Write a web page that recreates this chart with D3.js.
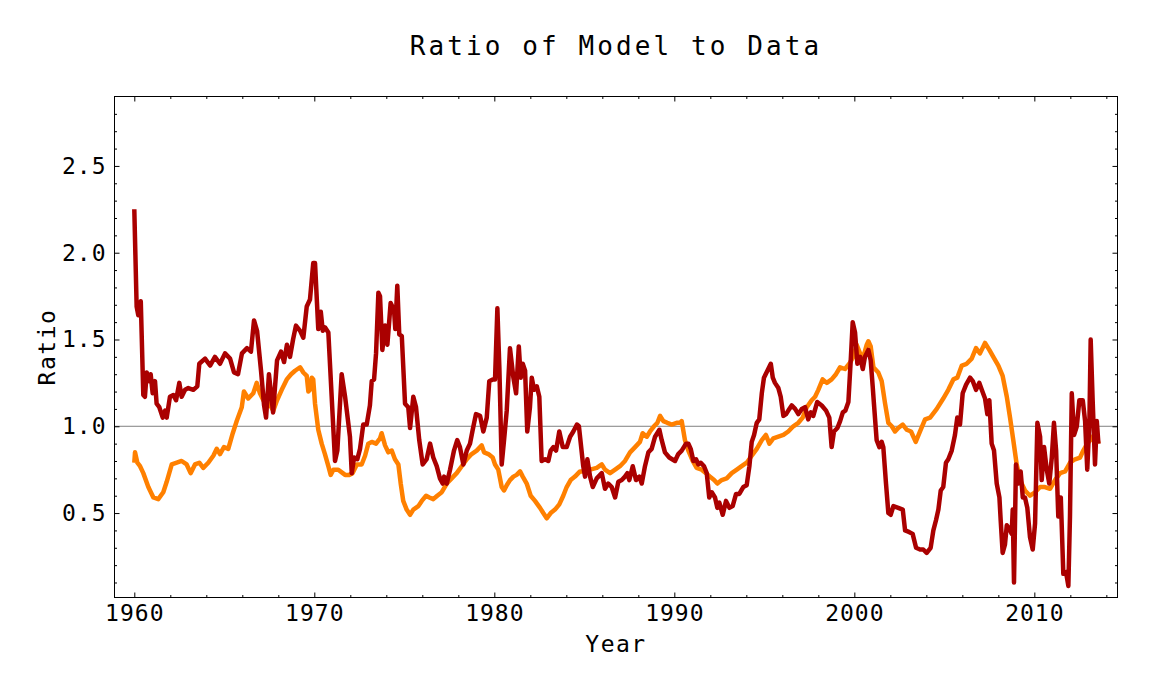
<!DOCTYPE html>
<html>
<head>
<meta charset="utf-8">
<script src="https://cdn.jsdelivr.net/npm/d3@7"></script>
<style>
  body { margin: 0; background: #fff; }
  svg { display: block; }
  .tick-label { font-family: "DejaVu Sans Mono", monospace; font-size: 23px; letter-spacing: 1px; fill: #000; }
</style>
</head>
<body>
<div id="chart"></div>
<script>
// dark red series (year, ratio)
const redYears = [1960.00, 1960.13, 1960.22, 1960.36, 1960.50, 1960.59, 1960.69, 1960.83, 1960.91, 1961.02,
  1961.15, 1961.24, 1961.39, 1961.58, 1961.71, 1961.80, 1961.98, 1962.17, 1962.32, 1962.50,
  1962.63, 1962.82, 1963.00, 1963.28, 1963.50, 1963.61, 1963.93, 1964.21, 1964.48, 1964.76,
  1965.04, 1965.32, 1965.54, 1965.76, 1965.98, 1966.26, 1966.48, 1966.65, 1966.82, 1967.04,
  1967.21, 1967.32, 1967.48, 1967.71, 1967.93, 1968.15, 1968.32, 1968.48, 1968.65, 1968.82,
  1968.98, 1969.21, 1969.39, 1969.58, 1969.76, 1969.94, 1970.04, 1970.22, 1970.36, 1970.47,
  1970.59, 1970.78, 1971.15, 1971.28, 1971.52, 1971.71, 1971.98, 1972.08, 1972.21, 1972.39,
  1972.54, 1972.72, 1972.91, 1973.09, 1973.19, 1973.32, 1973.43, 1973.56, 1973.65, 1973.78,
  1973.93, 1974.06, 1974.24, 1974.43, 1974.50, 1974.61, 1974.72, 1974.86, 1975.04, 1975.22,
  1975.32, 1975.50, 1975.65, 1975.83, 1976.02, 1976.24, 1976.43, 1976.61, 1976.80, 1976.98,
  1977.13, 1977.21, 1977.36, 1977.54, 1977.76, 1977.94, 1978.09, 1978.28, 1978.47, 1978.65,
  1978.80, 1978.98, 1979.21, 1979.39, 1979.58, 1979.72, 1979.91, 1980.04, 1980.17, 1980.28,
  1980.41, 1980.54, 1980.69, 1980.87, 1981.06, 1981.21, 1981.36, 1981.47, 1981.58, 1981.71,
  1981.83, 1981.98, 1982.08, 1982.21, 1982.36, 1982.50, 1982.63, 1982.82, 1983.00, 1983.13,
  1983.28, 1983.43, 1983.61, 1983.80, 1984.02, 1984.21, 1984.39, 1984.59, 1984.70, 1984.94,
  1985.04, 1985.17, 1985.32, 1985.47, 1985.69, 1985.97, 1986.15, 1986.33, 1986.52, 1986.71,
  1986.89, 1987.08, 1987.26, 1987.39, 1987.50, 1987.69, 1987.87, 1988.06, 1988.19, 1988.37,
  1988.56, 1988.74, 1988.93, 1989.17, 1989.30, 1989.48, 1989.72, 1990.04, 1990.22, 1990.41,
  1990.65, 1990.78, 1990.91, 1991.06, 1991.21, 1991.33, 1991.47, 1991.65, 1991.80, 1991.94,
  1992.08, 1992.26, 1992.39, 1992.50, 1992.69, 1992.87, 1993.06, 1993.24, 1993.43, 1993.61,
  1993.83, 1994.02, 1994.17, 1994.30, 1994.43, 1994.58, 1994.72, 1994.86, 1994.98, 1995.17,
  1995.36, 1995.47, 1995.59, 1995.78, 1995.91, 1996.06, 1996.21, 1996.39, 1996.52, 1996.71,
  1996.89, 1997.08, 1997.26, 1997.44, 1997.58, 1997.72, 1997.94, 1998.19, 1998.43, 1998.61,
  1998.74, 1998.87, 1999.06, 1999.21, 1999.36, 1999.50, 1999.67, 1999.80, 1999.91, 2000.04,
  2000.17, 2000.32, 2000.47, 2000.59, 2000.78, 2000.91, 2001.02, 2001.09, 2001.24, 2001.39,
  2001.52, 2001.61, 2001.76, 2001.89, 2002.02, 2002.17, 2002.44, 2002.69, 2002.82, 2003.06,
  2003.24, 2003.43, 2003.65, 2003.83, 2004.02, 2004.24, 2004.39, 2004.54, 2004.67, 2004.80,
  2004.94, 2005.09, 2005.22, 2005.41, 2005.59, 2005.72, 2005.87, 2006.02, 2006.21, 2006.43,
  2006.58, 2006.76, 2006.94, 2007.08, 2007.26, 2007.39, 2007.50, 2007.63, 2007.76, 2007.91,
  2008.06, 2008.13, 2008.24, 2008.37, 2008.47, 2008.61, 2008.74, 2008.80, 2008.87, 2008.98,
  2009.11, 2009.24, 2009.36, 2009.48, 2009.61, 2009.76, 2009.91, 2010.04, 2010.17, 2010.32,
  2010.41, 2010.54, 2010.69, 2010.83, 2010.97, 2011.09, 2011.21, 2011.33, 2011.47, 2011.61,
  2011.76, 2011.89, 2011.98, 2012.08, 2012.21, 2012.36, 2012.50, 2012.69, 2012.82, 2012.94,
  2013.06, 2013.13, 2013.24, 2013.37, 2013.47, 2013.56];
const redValues = [2.25, 1.69, 1.64, 1.72, 1.18, 1.17, 1.31, 1.26, 1.30, 1.19,
  1.26, 1.13, 1.11, 1.05, 1.09, 1.05, 1.17, 1.18, 1.15, 1.25,
  1.17, 1.21, 1.22, 1.21, 1.23, 1.36, 1.39, 1.35, 1.40, 1.36,
  1.42, 1.39, 1.31, 1.30, 1.42, 1.45, 1.43, 1.61, 1.55, 1.32,
  1.12, 1.05, 1.30, 1.08, 1.38, 1.43, 1.37, 1.47, 1.40, 1.50,
  1.58, 1.55, 1.51, 1.69, 1.73, 1.94, 1.94, 1.56, 1.66, 1.55,
  1.57, 1.54, 0.80, 0.86, 1.30, 1.17, 0.94, 0.73, 0.82, 0.81,
  0.87, 1.01, 1.01, 1.12, 1.26, 1.27, 1.42, 1.77, 1.75, 1.44,
  1.58, 1.47, 1.71, 1.67, 1.56, 1.81, 1.53, 1.52, 1.13, 1.11,
  0.99, 1.17, 1.11, 0.92, 0.78, 0.81, 0.90, 0.82, 0.77, 0.70,
  0.67, 0.71, 0.67, 0.75, 0.86, 0.92, 0.88, 0.78, 0.86, 0.90,
  0.98, 1.07, 1.06, 0.97, 1.05, 1.26, 1.27, 1.27, 1.68, 1.34,
  0.78, 0.92, 1.09, 1.45, 1.28, 1.19, 1.46, 1.28, 1.36, 1.32,
  0.97, 1.11, 1.28, 1.21, 1.23, 1.17, 0.80, 0.81, 0.80, 0.86,
  0.88, 0.86, 0.97, 0.88, 0.88, 0.94, 0.97, 1.01, 1.00, 0.77,
  0.71, 0.81, 0.71, 0.65, 0.70, 0.73, 0.64, 0.67, 0.65, 0.59,
  0.68, 0.69, 0.71, 0.73, 0.69, 0.77, 0.69, 0.71, 0.67, 0.77,
  0.85, 0.87, 0.94, 0.98, 0.92, 0.85, 0.82, 0.80, 0.84, 0.86,
  0.90, 0.90, 0.87, 0.80, 0.81, 0.78, 0.79, 0.77, 0.73, 0.59,
  0.62, 0.59, 0.53, 0.56, 0.49, 0.57, 0.53, 0.54, 0.61, 0.61,
  0.65, 0.66, 0.77, 0.91, 0.95, 1.02, 1.04, 1.19, 1.28, 1.32,
  1.36, 1.28, 1.25, 1.22, 1.17, 1.06, 1.07, 1.10, 1.12, 1.10,
  1.07, 1.10, 1.11, 1.04, 1.08, 1.06, 1.14, 1.12, 1.09, 1.05,
  0.88, 0.97, 0.99, 1.03, 1.08, 1.09, 1.14, 1.38, 1.60, 1.54,
  1.36, 1.40, 1.33, 1.40, 1.44, 1.38, 1.23, 1.13, 0.92, 0.88,
  0.91, 0.88, 0.67, 0.50, 0.49, 0.54, 0.53, 0.52, 0.40, 0.39,
  0.38, 0.30, 0.29, 0.29, 0.27, 0.30, 0.40, 0.46, 0.52, 0.63,
  0.65, 0.79, 0.81, 0.86, 0.95, 1.05, 1.01, 1.19, 1.24, 1.28,
  1.26, 1.21, 1.25, 1.21, 1.16, 1.07, 1.15, 0.90, 0.86, 0.67,
  0.59, 0.46, 0.27, 0.32, 0.43, 0.41, 0.38, 0.52, 0.10, 0.78,
  0.67, 0.74, 0.59, 0.59, 0.53, 0.36, 0.29, 0.44, 1.02, 0.94,
  0.69, 0.88, 0.75, 0.67, 0.82, 1.02, 0.86, 0.48, 0.59, 0.15,
  0.16, 0.08, 0.48, 1.19, 0.95, 1.00, 1.15, 1.15, 1.03, 0.75,
  1.03, 1.50, 1.15, 0.78, 1.03, 0.90];

// orange series (year, ratio)
const orangeYears = [1960.00, 1960.04, 1960.17, 1960.32, 1960.50, 1960.78, 1961.06, 1961.33, 1961.61, 1961.80,
  1962.08, 1962.36, 1962.63, 1962.91, 1963.13, 1963.37, 1963.61, 1963.83, 1964.11, 1964.39,
  1964.58, 1964.76, 1964.98, 1965.22, 1965.47, 1965.69, 1965.97, 1966.09, 1966.33, 1966.61,
  1966.80, 1966.98, 1967.17, 1967.44, 1967.72, 1967.93, 1968.19, 1968.47, 1968.71, 1968.93,
  1969.21, 1969.39, 1969.58, 1969.67, 1969.76, 1969.86, 1969.94, 1970.04, 1970.22, 1970.41,
  1970.59, 1970.78, 1970.91, 1971.06, 1971.33, 1971.58, 1971.71, 1971.94, 1972.13, 1972.36,
  1972.63, 1972.82, 1973.00, 1973.19, 1973.43, 1973.65, 1973.74, 1973.93, 1974.11, 1974.30,
  1974.48, 1974.67, 1974.80, 1974.94, 1975.13, 1975.32, 1975.50, 1975.78, 1975.97, 1976.21,
  1976.39, 1976.61, 1976.83, 1977.08, 1977.36, 1977.63, 1977.91, 1978.19, 1978.47, 1978.74,
  1979.02, 1979.30, 1979.43, 1979.67, 1979.91, 1980.04, 1980.22, 1980.41, 1980.54, 1980.69,
  1980.87, 1981.06, 1981.24, 1981.43, 1981.58, 1981.80, 1982.02, 1982.26, 1982.54, 1982.72,
  1982.91, 1983.13, 1983.37, 1983.61, 1983.83, 1984.02, 1984.24, 1984.48, 1984.76, 1985.04,
  1985.32, 1985.69, 1985.97, 1986.15, 1986.43, 1986.71, 1986.98, 1987.26, 1987.54, 1987.82,
  1988.09, 1988.24, 1988.47, 1988.65, 1988.87, 1989.06, 1989.21, 1989.39, 1989.61, 1989.86,
  1990.13, 1990.32, 1990.41, 1990.59, 1990.78, 1991.02, 1991.24, 1991.52, 1991.76, 1991.98,
  1992.21, 1992.39, 1992.63, 1992.91, 1993.19, 1993.47, 1993.74, 1994.02, 1994.30, 1994.58,
  1994.86, 1995.09, 1995.28, 1995.50, 1995.78, 1996.06, 1996.33, 1996.61, 1996.89, 1997.13,
  1997.36, 1997.63, 1997.82, 1998.00, 1998.24, 1998.47, 1998.74, 1998.98, 1999.21, 1999.48,
  1999.72, 1999.94, 2000.13, 2000.32, 2000.50, 2000.69, 2000.78, 2000.91, 2001.06, 2001.33,
  2001.52, 2001.71, 2001.89, 2002.08, 2002.26, 2002.44, 2002.69, 2002.91, 2003.15, 2003.41,
  2003.65, 2003.93, 2004.21, 2004.58, 2004.94, 2005.22, 2005.50, 2005.72, 2005.97, 2006.24,
  2006.52, 2006.76, 2006.98, 2007.26, 2007.50, 2007.72, 2008.00, 2008.24, 2008.47, 2008.65,
  2008.83, 2009.02, 2009.21, 2009.48, 2009.76, 2010.04, 2010.32, 2010.59, 2010.87, 2011.15,
  2011.43, 2011.71, 2011.98, 2012.26, 2012.54, 2012.72, 2012.94, 2013.19, 2013.43, 2013.56];
const orangeValues = [0.79, 0.85, 0.79, 0.77, 0.73, 0.65, 0.59, 0.58, 0.62, 0.68,
  0.78, 0.79, 0.80, 0.78, 0.73, 0.78, 0.79, 0.76, 0.79, 0.83,
  0.87, 0.84, 0.88, 0.87, 0.96, 1.03, 1.11, 1.20, 1.16, 1.19,
  1.25, 1.19, 1.15, 1.14, 1.09, 1.15, 1.21, 1.27, 1.30, 1.32,
  1.34, 1.31, 1.29, 1.20, 1.21, 1.28, 1.27, 1.13, 0.98, 0.90,
  0.84, 0.77, 0.72, 0.75, 0.75, 0.73, 0.72, 0.72, 0.73, 0.78,
  0.78, 0.83, 0.90, 0.91, 0.90, 0.93, 0.96, 0.89, 0.85, 0.86,
  0.81, 0.78, 0.67, 0.57, 0.52, 0.49, 0.52, 0.54, 0.57, 0.60,
  0.59, 0.58, 0.60, 0.62, 0.67, 0.70, 0.73, 0.77, 0.81, 0.84,
  0.86, 0.89, 0.85, 0.84, 0.82, 0.78, 0.75, 0.65, 0.63, 0.66,
  0.69, 0.71, 0.72, 0.74, 0.71, 0.67, 0.60, 0.57, 0.53, 0.50,
  0.47, 0.50, 0.52, 0.55, 0.60, 0.65, 0.69, 0.71, 0.74, 0.74,
  0.75, 0.76, 0.78, 0.75, 0.73, 0.75, 0.77, 0.80, 0.85, 0.88,
  0.91, 0.96, 0.94, 0.97, 1.00, 1.02, 1.06, 1.03, 1.02, 1.01,
  1.02, 1.02, 1.03, 0.92, 0.86, 0.80, 0.76, 0.75, 0.73, 0.71,
  0.69, 0.67, 0.69, 0.70, 0.73, 0.75, 0.77, 0.79, 0.83, 0.87,
  0.92, 0.95, 0.90, 0.93, 0.94, 0.95, 0.97, 1.00, 1.02, 1.05,
  1.11, 1.15, 1.17, 1.21, 1.27, 1.25, 1.27, 1.30, 1.34, 1.33,
  1.36, 1.40, 1.47, 1.42, 1.40, 1.47, 1.49, 1.46, 1.34, 1.31,
  1.26, 1.13, 1.02, 1.00, 0.97, 0.99, 1.01, 0.98, 0.97, 0.91,
  0.97, 1.04, 1.05, 1.10, 1.16, 1.21, 1.27, 1.28, 1.35, 1.36,
  1.39, 1.45, 1.42, 1.48, 1.44, 1.40, 1.35, 1.29, 1.17, 1.05,
  0.92, 0.78, 0.69, 0.63, 0.60, 0.62, 0.65, 0.65, 0.64, 0.69,
  0.73, 0.74, 0.79, 0.81, 0.82, 0.86, 0.90, 0.93, 0.97, 0.90];

const xMajorTicks = [1960, 1970, 1980, 1990, 2000, 2010];
const yMajorTicks = [0.5, 1.0, 1.5, 2.0, 2.5];

const width = 1152, height = 687;
const margin = {top: 96.5, right: 34.5, bottom: 89.5, left: 114.5};
const plotW = width - margin.left - margin.right;
const plotH = height - margin.top - margin.bottom;

const svg = d3.select("#chart").append("svg")
  .attr("width", width).attr("height", height);

const x = d3.scaleLinear().domain([1958.9, 2014.62]).range([0, plotW]);
const y = d3.scaleLinear().domain([0.0135, 2.9]).range([plotH, 0]);

const xMinor = d3.range(1960, 2015, 2).filter(v => v % 10 !== 0);
const yMinor = d3.range(1, 29).map(v => v / 10).filter(v => Math.round(v * 10) % 5 !== 0);

const g = svg.append("g").attr("transform", `translate(${margin.left},${margin.top})`);

svg.append("defs").append("clipPath").attr("id", "plot-clip")
  .append("rect").attr("width", plotW).attr("height", plotH);

// reference line at 1.0
g.append("line")
  .attr("x1", 0).attr("x2", plotW)
  .attr("y1", y(1)).attr("y2", y(1))
  .attr("stroke", "#808080").attr("stroke-width", 1);

const line = d3.line().x(d => x(d[0])).y(d => y(d[1]));

const series = [
  {color: "#ff8000", pts: d3.zip(orangeYears, orangeValues)},
  {color: "#aa0000", pts: d3.zip(redYears, redValues)}
];

g.append("g").attr("clip-path", "url(#plot-clip)")
  .selectAll("path").data(series).join("path")
  .attr("fill", "none")
  .attr("stroke", d => d.color)
  .attr("stroke-width", 4.5)
  .attr("stroke-linejoin", "round")
  .attr("d", d => line(d.pts));

function styleAxis(sel) {
  sel.select(".domain").remove();
  sel.selectAll(".tick line").attr("stroke", "#000");
  sel.selectAll(".tick text").attr("class", "tick-label").attr("font-family", null).attr("font-size", null);
}

// bottom axis
g.append("g").attr("transform", `translate(0,${plotH})`)
  .call(d3.axisBottom(x).tickValues(xMajorTicks).tickSize(-5).tickPadding(7).tickFormat(d3.format("d")))
  .call(styleAxis);
g.append("g").attr("transform", `translate(0,${plotH})`)
  .call(d3.axisBottom(x).tickValues(xMinor).tickSize(-2.5).tickFormat(""))
  .call(styleAxis);
// top axis
g.append("g")
  .call(d3.axisTop(x).tickValues(xMajorTicks).tickSize(-5).tickFormat(""))
  .call(styleAxis);
g.append("g")
  .call(d3.axisTop(x).tickValues(xMinor).tickSize(-2.5).tickFormat(""))
  .call(styleAxis);
// left axis
g.append("g")
  .call(d3.axisLeft(y).tickValues(yMajorTicks).tickSize(-5).tickPadding(8).tickFormat(d3.format(".1f")))
  .call(styleAxis);
g.append("g")
  .call(d3.axisLeft(y).tickValues(yMinor).tickSize(-2.5).tickFormat(""))
  .call(styleAxis);
// right axis
g.append("g").attr("transform", `translate(${plotW},0)`)
  .call(d3.axisRight(y).tickValues(yMajorTicks).tickSize(-5).tickFormat(""))
  .call(styleAxis);
g.append("g").attr("transform", `translate(${plotW},0)`)
  .call(d3.axisRight(y).tickValues(yMinor).tickSize(-2.5).tickFormat(""))
  .call(styleAxis);

// frame
g.append("rect")
  .attr("width", plotW).attr("height", plotH)
  .attr("fill", "none").attr("stroke", "#000").attr("stroke-width", 1);

// title and axis labels
svg.append("text")
  .attr("x", margin.left + plotW / 2).attr("y", 55)
  .attr("text-anchor", "middle")
  .style("font-family", "'DejaVu Sans Mono', monospace")
  .style("font-size", "26px")
  .style("letter-spacing", "3.1px")
  .text("Ratio of Model to Data");

svg.append("text")
  .attr("x", margin.left + plotW / 2).attr("y", 652)
  .attr("text-anchor", "middle")
  .style("font-family", "'DejaVu Sans Mono', monospace")
  .style("font-size", "23px")
  .style("letter-spacing", "1.5px")
  .text("Year");

svg.append("text")
  .attr("transform", `translate(55,${margin.top + plotH / 2}) rotate(-90)`)
  .attr("text-anchor", "middle")
  .style("font-family", "'DejaVu Sans Mono', monospace")
  .style("font-size", "23px")
  .style("letter-spacing", "1.5px")
  .text("Ratio");
</script>
</body>
</html>
